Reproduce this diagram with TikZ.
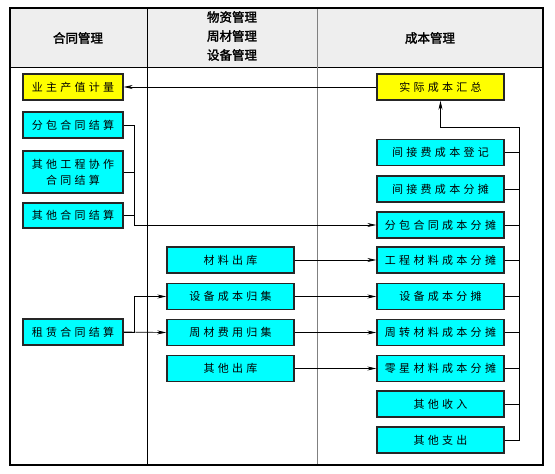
\documentclass[tikz,border=0pt]{standalone}
\usepackage{fontspec}
\setmainfont{Noto Sans CJK SC}
\newfontfamily\boxfont[LetterSpace=30]{Noto Sans CJK SC}
\newfontfamily\headfont[FakeBold=2]{Noto Sans CJK SC}
\usetikzlibrary{arrows.meta}
\definecolor{boxcyan}{RGB}{0,255,255}
\definecolor{boxyellow}{RGB}{255,255,0}
\definecolor{headgray}{RGB}{238,238,238}
\tikzset{
  cbox/.style={draw=black!85, line width=1.4pt, fill=boxcyan, minimum height=26pt,
    inner sep=0pt, align=center, font=\boxfont\fontsize{11}{16}\selectfont},
  ybox/.style={cbox, fill=boxyellow},
  link/.style={line width=0.7pt, black},
  arr/.style={link, -{Stealth[length=9pt,width=4pt]}},
  head/.style={font=\headfont\fontsize{12.5}{19}\selectfont, align=center}
}
\begin{document}
\begin{tikzpicture}[x=1pt, y=-1pt]
  \useasboundingbox (0,0) rectangle (555,474);
  % frame and header
  \fill[headgray] (10,8) rectangle (543,67);
  \draw[line width=0.8pt] (10,67) -- (543,67);
  \draw[line width=0.8pt] (147,8) -- (147,465);
  \draw[line width=0.8pt, black!50] (317,8) -- (317,465);
  \draw[line width=1.6pt] (10,8) rectangle (543,465);
  \node[head] (hht) at (78,38) {合同管理};
  \node[head] (hwz) at (232,36) {物资管理\\周材管理\\设备管理};
  \node[head] (hcb) at (430,38) {成本管理};
  % contract column
  \node[ybox, minimum width=100pt] (yzcz) at (73,87) {业主产值计量};
  \node[cbox, minimum width=100pt] (fbjs) at (73,125) {分包合同结算};
  \node[cbox, minimum width=100pt, minimum height=42pt] (qtxz) at (73,172) {其他工程协作\\合同结算};
  \node[cbox, minimum width=100pt, minimum height=25pt] (qtjs) at (73,215.5) {其他合同结算};
  \node[cbox, minimum width=100pt] (zljs) at (73,332) {租赁合同结算};
  % material column
  \node[cbox, minimum width=127pt] (clck) at (230.5,260) {材料出库};
  \node[cbox, minimum width=127pt] (sbgj) at (230.5,296.5) {设备成本归集};
  \node[cbox, minimum width=127pt] (zcgj) at (230.5,332.5) {周材费用归集};
  \node[cbox, minimum width=127pt] (qtck) at (230.5,368.5) {其他出库};
  % cost column
  \node[ybox, minimum width=127pt] (sjhz) at (440.5,87) {实际成本汇总};
  \node[cbox, minimum width=127pt] (jjdj) at (440.5,152.5) {间接费成本登记};
  \node[cbox, minimum width=127pt] (jjft) at (440.5,189) {间接费成本分摊};
  \node[cbox, minimum width=127pt] (fbft) at (440.5,225) {分包合同成本分摊};
  \node[cbox, minimum width=127pt] (gcft) at (440.5,260) {工程材料成本分摊};
  \node[cbox, minimum width=127pt] (sbft) at (440.5,296.5) {设备成本分摊};
  \node[cbox, minimum width=127pt] (zzft) at (440.5,332.5) {周转材料成本分摊};
  \node[cbox, minimum width=127pt] (lxft) at (440.5,368.5) {零星材料成本分摊};
  \node[cbox, minimum width=127pt] (qtsr) at (440.5,404) {其他收入};
  \node[cbox, minimum width=127pt] (qtzc) at (440.5,440) {其他支出};
  % connectors
  \draw[arr] (sjhz) -- (yzcz);
  \draw[arr] (fbjs.east) -- ++(11,0) |- (fbft.west);
  \draw[link] (qtxz.east) -- ++(11,0);
  \draw[link] (qtjs.east) -- ++(11,0);
  \draw[arr] (zljs.east) -- ++(11,0) |- (sbgj.west);
  \draw[arr] (zljs.east) -- (zcgj.west);
  \draw[arr] (clck) -- (gcft);
  \draw[arr] (sbgj) -- (sbft);
  \draw[arr] (zcgj) -- (zzft);
  \draw[arr] (qtck) -- (lxft);
  \coordinate (sumtop) at (519,127);
  \draw[arr] (sumtop) -| (sjhz.south);
  \draw[link] (qtzc.east) -| (sumtop);
  \foreach \n in {jjdj,jjft,fbft,gcft,sbft,zzft,lxft,qtsr}
    \draw[link] (\n.east) -- (\n.east -| sumtop);
\end{tikzpicture}
\end{document}
